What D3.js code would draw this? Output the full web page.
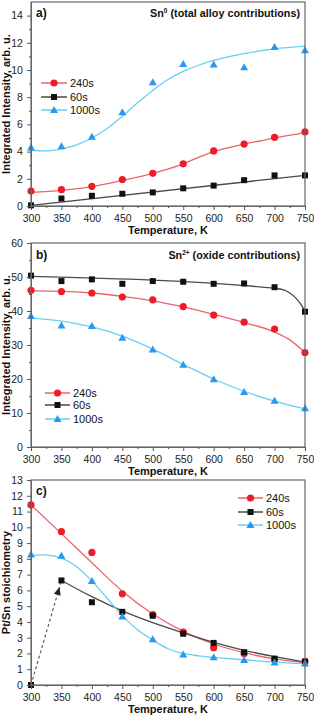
<!DOCTYPE html>
<html><head><meta charset="utf-8">
<script src="https://cdn.jsdelivr.net/npm/d3@7"></script>
<style>body{margin:0;background:#fff}svg{display:block;font-family:"Liberation Sans",Arial,sans-serif}</style>
</head><body><svg id="c" width="314" height="716"></svg>
<script>
const temps = [300,350,400,450,500,550,600,650,700,750];
const xTicks = [300,350,400,450,500,550,600,650,700,750];
const seriesNames = ["240s","60s","1000s"];

// Panel a) Sn0
const a240 = [1.1,1.2,1.45,1.95,2.4,3.1,4.05,4.55,5.05,5.45];
const a60 = [0.05,0.55,0.75,0.9,1.0,1.3,1.5,1.9,2.25,2.25];
const a1000 = [4.3,4.4,5.1,6.9,9.1,10.45,10.4,10.2,11.7,11.45];
const aFit240 = [[300,1.0],[350,1.15],[400,1.42],[450,1.88],[500,2.4],[550,3.1],[575,3.58],[600,4.0],[650,4.55],[700,5.0],[750,5.4]];
const aFit60 = [[300,0.05],[750,2.25]];
const aFit1000 = [[300,4.1],[325,4.05],[350,4.2],[375,4.5],[400,5.0],[425,5.7],[450,6.6],[475,7.6],[500,8.5],[525,9.3],[550,9.9],[575,10.35],[600,10.7],[650,11.2],[700,11.55],[750,11.75]];
const aYTicks = [0,2,4,6,8,10,12,14];

// Panel b) Sn2+
const b240 = [46.1,45.7,45.3,44.1,43.3,41.3,38.8,36.7,34.7,27.8];
const b60 = [50.4,48.8,49.3,48.0,48.8,48.6,48.0,48.1,47.0,39.8];
const b1000 = [38.5,35.7,35.6,32.1,28.7,24.2,19.9,16.2,13.6,11.4];
const bFit240 = [[300,45.9],[350,45.8],[400,45.3],[450,44.3],[500,43.0],[550,41.2],[600,39.0],[650,36.6],[700,33.8],[725,31.5],[750,27.8]];
const bFit60 = [[300,50.2],[700,46.7],[715,46.2],[725,45.3],[735,43.8],[745,41.5],[750,39.8]];
const bFit1000 = [[300,37.9],[350,37.0],[400,35.3],[450,32.6],[500,28.8],[550,24.3],[600,20.0],[650,16.4],[700,13.5],[750,11.2]];
const bYTicks = [0,10,20,30,40,50,60];

// Panel c) Pt/Sn
const c240 = [11.42,9.72,8.41,5.78,4.47,3.35,2.37,1.99,1.63,1.5];
const c60 = [0.0,6.63,5.25,4.64,4.39,3.25,2.67,2.08,1.67,1.48];
const c1000 = [8.28,8.2,6.59,4.34,2.9,1.93,1.76,1.59,1.42,1.36];
const cFit240 = [[300,11.42],[350,9.6],[400,7.75],[450,5.95],[500,4.5],[550,3.4],[600,2.6],[650,2.05],[700,1.65],[750,1.42]];
const cFit60 = [[350,6.63],[400,5.6],[450,4.7],[500,3.95],[550,3.3],[600,2.7],[650,2.2],[700,1.8],[750,1.45]];
const cFit1000 = [[300,8.2],[320,8.25],[350,8.05],[375,7.5],[400,6.6],[425,5.5],[450,4.4],[475,3.5],[500,2.85],[525,2.3],[550,2.0],[575,1.85],[600,1.75],[650,1.6],[700,1.45],[750,1.35]];
const cArrow = [[300,0],[350,6.63]];
const cYTicks = [0,1,2,3,4,5,6,7,8,9,10,11,12,13];

const svg = d3.select("#c");
const ptCol = {"240s":"#ee1c25","60s":"#111111","1000s":"#2a98ee"};
const lnCol = {"240s":"#f0606a","60s":"#4a4a4a","1000s":"#66d0f2"};
const x = d3.scaleLinear().domain([300,750]).range([31,305]);

function marker(g, name, cx, cy){
  if(name==="240s") g.append("circle").attr("cx",cx).attr("cy",cy).attr("r",3.6).attr("fill",ptCol[name]);
  else if(name==="60s") g.append("rect").attr("x",cx-3).attr("y",cy-3).attr("width",6).attr("height",6).attr("fill",ptCol[name]);
  else g.append("path").attr("d",`M${cx},${cy-4}L${cx+4},${cy+3}L${cx-4},${cy+3}Z`).attr("fill",ptCol[name]);
}

function panel(opt){
  const y = d3.scaleLinear().domain(opt.dom).range([opt.bottom,opt.top]);
  const g = svg.append("g");
  const line = d3.line().x(d=>x(d[0])).y(d=>y(d[1])).curve(d3.curveMonotoneX);
  opt.fits.forEach((f,i)=>{
    g.append("path").datum(f).attr("d",line).attr("fill","none").attr("stroke",lnCol[seriesNames[i]]).attr("stroke-width",1.3);
  });
  if(opt.extra) opt.extra(g,y);
  opt.pts.forEach((p,i)=>{
    p.forEach((v,j)=>marker(g,seriesNames[i],x(temps[j]),y(v)));
  });
  g.append("rect").attr("x",31).attr("y",opt.top).attr("width",274).attr("height",opt.bottom-opt.top).attr("fill","none").attr("stroke","#666").attr("stroke-width",1.2);
  const xa = g.append("g").attr("transform",`translate(0,${opt.bottom})`)
    .call(d3.axisBottom(x).tickValues(xTicks).tickSize(4).tickSizeOuter(0));
  g.append("g").attr("transform",`translate(0,${opt.bottom})`)
    .call(d3.axisBottom(x).tickValues(d3.range(325,750,50)).tickSize(2).tickFormat(""))
    .call(s=>s.select(".domain").remove());
  const ya = g.append("g").attr("transform","translate(31,0)")
    .call(d3.axisLeft(y).tickValues(opt.yt).tickSize(4).tickSizeOuter(0));
  if(opt.ym) g.append("g").attr("transform","translate(31,0)")
    .call(d3.axisLeft(y).tickValues(opt.ym).tickSize(2).tickFormat(""))
    .call(s=>s.select(".domain").remove());
  g.selectAll(".domain").attr("stroke","#666");
  g.selectAll(".tick line").attr("stroke","#555");
  xa.selectAll("text").attr("font-size",10.5).attr("fill","#222").attr("dy","0.9em");
  ya.selectAll("text").attr("font-size",10.5).attr("fill","#222").attr("dx","-0.1em");
  g.append("text").attr("x",168).attr("y",opt.bottom+28).attr("text-anchor","middle")
    .attr("font-size",11).attr("font-weight","bold").attr("fill","#111").text("Temperature, K");
  g.append("text").attr("transform",`translate(10,${(opt.top+opt.bottom)/2}) rotate(-90)`)
    .attr("text-anchor","middle").attr("font-size",11).attr("font-weight","bold").attr("fill","#111").text(opt.ylab);
  g.append("text").attr("x",36).attr("y",opt.top+opt.lblDy).attr("font-size",12).attr("font-weight","bold").attr("fill","#111").text(opt.lbl);
  if(opt.title){
    const t = g.append("text").attr("x",300).attr("y",opt.top+opt.lblDy).attr("text-anchor","end")
      .attr("font-size",10.8).attr("font-weight","bold").attr("fill","#111");
    t.append("tspan").text(opt.title[0]);
    t.append("tspan").attr("font-size",6.5).attr("dy",-4).text(opt.title[1]);
    t.append("tspan").attr("dy",4).text(opt.title[2]);
  }
  seriesNames.forEach((n,i)=>{
    const ly = opt.leg.y[i];
    g.append("line").attr("x1",opt.leg.x1).attr("x2",opt.leg.x2).attr("y1",ly).attr("y2",ly)
      .attr("stroke",lnCol[n]).attr("stroke-width",1.5);
    marker(g,n,(opt.leg.x1+opt.leg.x2)/2,ly);
    g.append("text").attr("x",opt.leg.x2+3).attr("y",ly+4).attr("font-size",11).attr("fill","#111").text(n);
  });
}

panel({dom:[0,15],top:2,bottom:206,pts:[a240,a60,a1000],fits:[aFit240,aFit60,aFit1000],yt:aYTicks,ym:d3.range(1,15,2),
  ylab:"Integrated Intensity, arb. u.",lbl:"a)",lblDy:15,title:["Sn","0"," (total alloy contributions)"],
  leg:{x1:41,x2:67,y:[83,97,110]}});
panel({dom:[0,60],top:243,bottom:447,pts:[b240,b60,b1000],fits:[bFit240,bFit60,bFit1000],yt:bYTicks,ym:d3.range(5,60,10),
  ylab:"Integrated Intensity, arb. u.",lbl:"b)",lblDy:16,title:["Sn","2+"," (oxide contributions)"],
  leg:{x1:45,x2:70,y:[393,405,419]}});
panel({dom:[0,13],top:480,bottom:685,pts:[c240,c60,c1000],fits:[cFit240,cFit60,cFit1000],yt:cYTicks,
  ylab:"Pt/Sn stoichiometry",lbl:"c)",lblDy:15,
  leg:{x1:238,x2:263,y:[498,512,525]},
  extra:(g,y)=>{
    g.append("line").attr("x1",x(cArrow[0][0])).attr("y1",y(cArrow[0][1])).attr("x2",x(cArrow[1][0])).attr("y2",y(cArrow[1][1]))
      .attr("stroke","#555").attr("stroke-width",1.1).attr("stroke-dasharray","3,2.5");
    const x0=x(cArrow[0][0]),y0=y(cArrow[0][1]),x1=x(cArrow[1][0]),y1=y(cArrow[1][1]);
    const ang=Math.atan2(y1-y0,x1-x0)*180/Math.PI;
    const tx=x0+(x1-x0)*0.9, ty=y0+(y1-y0)*0.9;
    g.append("path").attr("d","M4,0L-4,-3.5L-4,3.5Z").attr("fill","#222").attr("transform",`translate(${tx},${ty}) rotate(${ang})`);
  }});
</script></body></html>
